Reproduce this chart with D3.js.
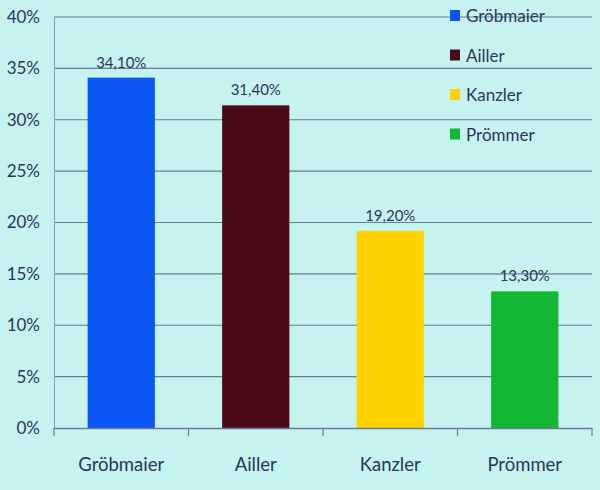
<!DOCTYPE html>
<html><head><meta charset="utf-8">
<script src="https://cdn.jsdelivr.net/npm/d3@7"></script>
<style>html,body{margin:0;padding:0;background:#c6f2f0;}svg{display:block;}</style>
</head><body>
<svg id="c" width="600" height="490"></svg>
<script>
const categories = ["Gröbmaier","Ailler","Kanzler","Prömmer"];
const values = [34.1, 31.4, 19.2, 13.3];
const valueLabels = ["34,10%","31,40%","19,20%","13,30%"];
const colors = ["#0b55f2","#4a0b16","#ffd200","#12b832"];
const yTicks = [0,5,10,15,20,25,30,35,40];

const svg = d3.select("#c");
const W=600,H=490;
const font="Lato, 'Open Sans', sans-serif";
const textColor="#2b3560";

const x = d3.scaleBand().domain(categories).range([54,592]).paddingInner(0.5).paddingOuter(0.25);
const y = d3.scaleLinear().domain([0,40]).range([428,17]);

svg.append("rect").attr("width",W).attr("height",H).attr("fill","#c6f2f0");

// gridlines
svg.append("g").selectAll("line").data(yTicks.filter(d=>d>0)).join("line")
  .attr("x1",54).attr("x2",592).attr("y1",d=>y(d)).attr("y2",d=>y(d))
  .attr("stroke","#6b7898").attr("stroke-width",1.2);

// bars
svg.append("g").selectAll("rect").data(categories).join("rect")
  .attr("x",d=>x(d)).attr("width",x.bandwidth())
  .attr("y",(d,i)=>y(values[i])).attr("height",(d,i)=>y(0)-y(values[i]))
  .attr("fill",(d,i)=>colors[i]);

// axes
const yAxis = svg.append("g").attr("transform","translate(54,0)")
  .call(d3.axisLeft(y).tickValues(yTicks).tickFormat(d=>d+"%").tickSize(0).tickPadding(14));
yAxis.select(".domain").attr("stroke","#8aa0b8").attr("stroke-width",1);
yAxis.selectAll("text").attr("font-family",font).attr("font-size",17).attr("fill",textColor);

const xAxis = svg.append("g").attr("transform","translate(0,428)")
  .call(d3.axisBottom(x).tickSize(0).tickPadding(30));
xAxis.select(".domain").attr("stroke","#6b7898").attr("stroke-width",1.4);
xAxis.selectAll("text").attr("font-family",font).attr("font-size",18.5).attr("fill",textColor);

// category boundary ticks
const bounds = d3.range(categories.length+1).map(i=>54 + i*(592-54)/categories.length);
svg.append("g").selectAll("line").data(bounds).join("line")
  .attr("x1",d=>d).attr("x2",d=>d).attr("y1",428).attr("y2",436)
  .attr("stroke","#6b7898").attr("stroke-width",1.2);

// value labels
svg.append("g").selectAll("text").data(categories).join("text")
  .attr("x",d=>x(d)+x.bandwidth()/2).attr("y",(d,i)=>y(values[i])-10)
  .attr("text-anchor","middle").attr("font-family",font).attr("font-size",15)
  .attr("fill",textColor).text((d,i)=>valueLabels[i]);

// legend
const lg = svg.append("g");
categories.forEach((c,i)=>{
  const cy = 16 + i*39.5;
  lg.append("rect").attr("x",450).attr("y",cy-6).attr("width",10).attr("height",11).attr("fill",colors[i]);
  lg.append("text").attr("x",466).attr("y",cy).attr("dy","0.36em")
    .attr("font-family",font).attr("font-size",17).attr("fill",textColor).text(c);
});
</script>
</body></html>
